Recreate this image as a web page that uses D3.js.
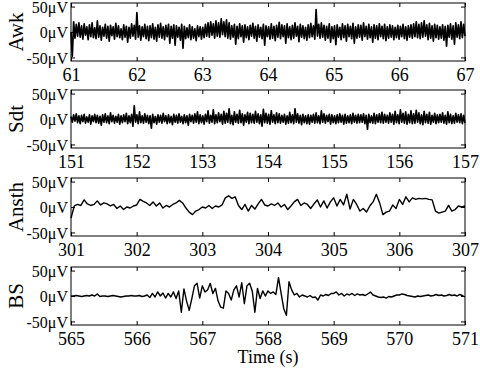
<!DOCTYPE html>
<html>
<head>
<meta charset="utf-8" />
<script src="https://cdn.jsdelivr.net/npm/d3@7"></script>
<style>
  body { margin: 0; background: #fff; }
</style>
</head>
<body>
<script>
// EEG traces, 6 s each, values in microvolts
var awk = [
  0, -48, 20, -12, 15, -8, 18, -10, 12, -14, 16, -6, 10, -15, 14, -9, 18, -11, 8, -13,
  22, -10, 12, -16, 9, -8, 15, -12, 11, -18, 13, -7, 10, -14, 17, -9, 12, -11, 6, -15,
  14, -10, 11, -20, 9, -12, 16, -8, 13, -14, 38, -10, 12, -16, 10, -9, 15, -13, 11, -17,
  12, -11, 16, -14, 9, -18, 14, -10, 17, -12, 10, -15, 13, -9, 15, -22, 11, -12, 14, -26,
  12, -10, 9, -16, 15, -32, 11, -13, 8, -11, 14, -15, 10, -12, 6, -17, 12, -9, 10, -14,
  9, -11, 15, -8, 18, -10, 20, -6, 16, -12, 22, -8, 18, -10, 26, -5, 20, -9, 24, -12,
  18, -14, 12, -10, 15, -24, 11, -13, 16, -9, 12, -20, 14, -11, 10, -15, 13, -8, 17, -12,
  11, -18, 14, -10, 9, -13, 15, -26, 12, -9, 10, -14, 16, -12, 11, -17, 13, -10, 19, -13,
  14, -9, 12, -22, 16, -11, 10, -15, 13, -12, 18, -8, 11, -19, 15, -10, 12, -13, 9, -16,
  14, -11, 17, -9, 12, -14, 44, -8, 15, -12, 18, -10, 13, -16, 11, -12, 16, -20, 10, -13,
  12, -25, 14, -10, 9, -15, 16, -11, 12, -18, 15, -9, 11, -13, 17, -22, 10, -12, 14, -10,
  13, -16, 18, -9, 11, -14, 15, -11, 10, -20, 14, -12, 12, -15, 16, -9, 11, -13, 15, -17,
  10, -12, 14, -10, 12, -15, 9, -11, 13, -14, 11, -9, 15, -13, 10, -16, 12, -10, 14, -12,
  16, -9, 20, -11, 15, -13, 18, -10, 22, -8, 14, -15, 17, -12, 12, -18, 15, -11, 13, -14,
  10, -12, 14, -16, 11, -28, 13, -10, 16, -14, 12, -24, 18, -10, 14, -13, 20, -11, 15, -8
];

var sdt = [
  5, -6, 8, -4, 10, -7, 6, -9, 7, -5, 9, -8, 4, -6, 8, -10, 6, -5, 9, -7,
  7, -8, 5, -12, 8, -6, 10, -7, 6, -9, 12, -5, 7, -8, 5, -6, 9, -10, 6, -7,
  8, -5, 11, -9, 6, -7, 9, -14, 26, -6, 8, -9, 14, -7, 6, -8, 10, -6, 7, -9,
  6, -18, 9, -7, 5, -10, 8, -6, 7, -8, 11, -5, 6, -9, 8, -7, 5, -11, 9, -6,
  7, -8, 10, -6, 5, -9, 8, -7, 6, -12, 9, -5, 7, -8, 10, -6, 14, -9, 8, -7,
  6, -10, 9, -5, 16, -8, 7, -6, 18, -9, 8, -7, 12, -5, 9, -10, 15, -8, 11, -6,
  20, -9, 7, -11, 14, -6, 9, -8, 17, -7, 10, -12, 8, -6, 13, -9, 11, -7, 9, -8,
  15, -6, 10, -9, 8, -14, 19, -7, 11, -8, 9, -10, 16, -6, 8, -9, 12, -7, 10, -8,
  7, -6, 9, -10, 6, -8, 13, -7, 8, -9, 20, -6, 10, -8, 7, -11, 9, -7, 6, -9,
  8, -10, 7, -6, 9, -8, 12, -7, 6, -9, 16, -6, 10, -8, 7, -5, 9, -10, 8, -7,
  6, -9, 8, -7, 10, -6, 7, -10, 9, -8, 6, -7, 8, -9, 11, -6, 7, -8, 9, -7,
  8, -6, 10, -9, 7, -20, 9, -7, 6, -8, 11, -9, 8, -6, 10, -7, 13, -8, 9, -6,
  7, -8, 12, -6, 9, -10, 15, -7, 8, -9, 18, -6, 11, -8, 14, -10, 9, -7, 16, -9,
  10, -8, 17, -6, 12, -9, 8, -11, 15, -7, 9, -8, 13, -10, 7, -6, 11, -9, 8, -7,
  9, -6, 12, -8, 7, -10, 14, -7, 9, -9, 6, -8, 11, -6, 8, -7, 10, -9, 7, -8
];

var ansth = [
  -22, 2, 5, 3, 14, 6, 3, 5, 12, 4, 8, 6, 2, 5, -3, 2, -5, 0, -2, 2,
  4, 15, 11, 8, 3, 10, 2, 8, -2, 3, 0, 5, 8, 13, 8, -2, -10, -15, -8, -5,
  0, -2, 3, -3, 2, 0, 4, 18, 22, 17, 20, 3, -5, 5, -8, 3, -4, 6, 15, 4,
  2, 6, 3, 8, 0, 5, -5, 2, 10, 15, 3, 8, 5, -3, 6, 14, 0, 12, -2, 10,
  18, 2, 15, 4, 25, -4, 15, 5, -8, -3, -10, 2, 10, 25, 8, -15, -10, -8, 4, -3,
  15, 5, 20, 10, 18, 15, 17, 16, 17, 15, 14, -8, -12, -10, -8, 3, -8, -5, 2, 0,
  2
];

var bs = [
  0, 0, 1, 0, -1, 0, 1, 0, 2, 0, 4, -1, 0, 0, -1, 0, 1, 0, -1, -2, -1, 0, 0, 1, 0,
  0, 1, -1, 0, 2, -3, 5, -2, 8, 0, 6, -4, 5, -2, 8, -5, 10, -32, 14, -10, -28, -5, 20, 25, -4,
  20, 8, 12, 25, 5, 15, -10, -22, -24, 10, 5, -8, 12, 20, -2, 26, -15, 20, 25, 10, -32, 15, -5, 10, 0,
  10, 5, 8, 3, 36, 5, -25, -38, 28, 12, 2, 5, -2, 2, 0, -2, 1, -3, -2, -8, 2, 0, 3, 1, 5,
  5, 8, 2, 5, 0, 4, 2, 5, 1, 4, 2, 3, 1, 4, 8, 2, 0, -2, -3, -2, -4, -1, -2, 0, 2,
  2, 4, 3, 1, 0, -1, -2, 0, -1, 0, 1, 2, 0, 1, 3, 1, 2, 0, 1, 3, 1, 2, 0, 3, 1,
  -2
];

var series = [awk, sdt, ansth, bs];
var names = ["Awk", "Sdt", "Ansth", "BS"];
var starts = [61, 151, 301, 565];
var yTicks = [-50, 0, 50];
var yTickLabels = ["-50\u03bcV", "0\u03bcV", "50\u03bcV"];

var width = 480, height = 374;
var left = 71, right = 465, panelH = 58;
var panelTops = [3, 90, 178, 267];
var serif = "'Liberation Serif', 'Times New Roman', Times, serif";

var svg = d3
  .select("body")
  .append("svg")
  .attr("width", width)
  .attr("height", height);

series.forEach(function (vals, i) {
  var top = panelTops[i];
  var t0 = starts[i];
  var x = d3.scaleLinear().domain([t0, t0 + 6]).range([left, right]);
  var y = d3.scaleLinear().domain([-57, 57]).range([top + panelH, top]);
  var step = 6 / (vals.length - 1);

  var g = svg.append("g");

  var line = d3
    .line()
    .x(function (d, j) { return x(t0 + j * step); })
    .y(function (d) { return y(d); });

  g.append("path")
    .datum(vals)
    .attr("d", line)
    .attr("fill", "none")
    .attr("stroke", "#000")
    .attr("stroke-width", i < 2 ? 1.7 : 1.4)
    .attr("stroke-linejoin", "round");

  var xt = d3.range(t0, t0 + 7);

  // bottom axis with labels, ticks inward
  var bot = g.append("g")
    .attr("transform", "translate(0," + (top + panelH) + ")")
    .call(d3.axisBottom(x).tickValues(xt).tickFormat(d3.format("d")).tickSize(-4).tickPadding(7));
  bot.selectAll("text").style("font-family", serif).style("font-size", "18px");

  g.append("g")
    .attr("transform", "translate(0," + top + ")")
    .call(d3.axisTop(x).tickValues(xt).tickFormat("").tickSize(-4));

  var lft = g.append("g")
    .attr("transform", "translate(" + left + ",0)")
    .call(d3.axisLeft(y).tickValues(yTicks).tickFormat(function (d, k) { return yTickLabels[k]; }).tickSize(-4).tickPadding(3));
  lft.selectAll("text").style("font-family", serif).style("font-size", "16px").attr("dy", "0.36em");

  g.append("g")
    .attr("transform", "translate(" + right + ",0)")
    .call(d3.axisRight(y).tickValues(yTicks).tickFormat("").tickSize(-4));

  g.selectAll(".domain").remove();
  g.selectAll(".tick line").attr("stroke", "#000");

  g.append("rect")
    .attr("x", left)
    .attr("y", top)
    .attr("width", right - left)
    .attr("height", panelH)
    .attr("fill", "none")
    .attr("stroke", "#000")
    .attr("stroke-width", 1);

  g.append("text")
    .attr("transform", "translate(23," + (top + panelH / 2) + ") rotate(-90)")
    .attr("text-anchor", "middle")
    .style("font-family", serif)
    .style("font-size", "21px")
    .text(names[i]);
});

svg.append("text")
  .attr("x", (left + right) / 2)
  .attr("y", 363)
  .attr("text-anchor", "middle")
  .style("font-family", serif)
  .style("font-size", "18px")
  .text("Time (s)");
</script>
</body>
</html>
